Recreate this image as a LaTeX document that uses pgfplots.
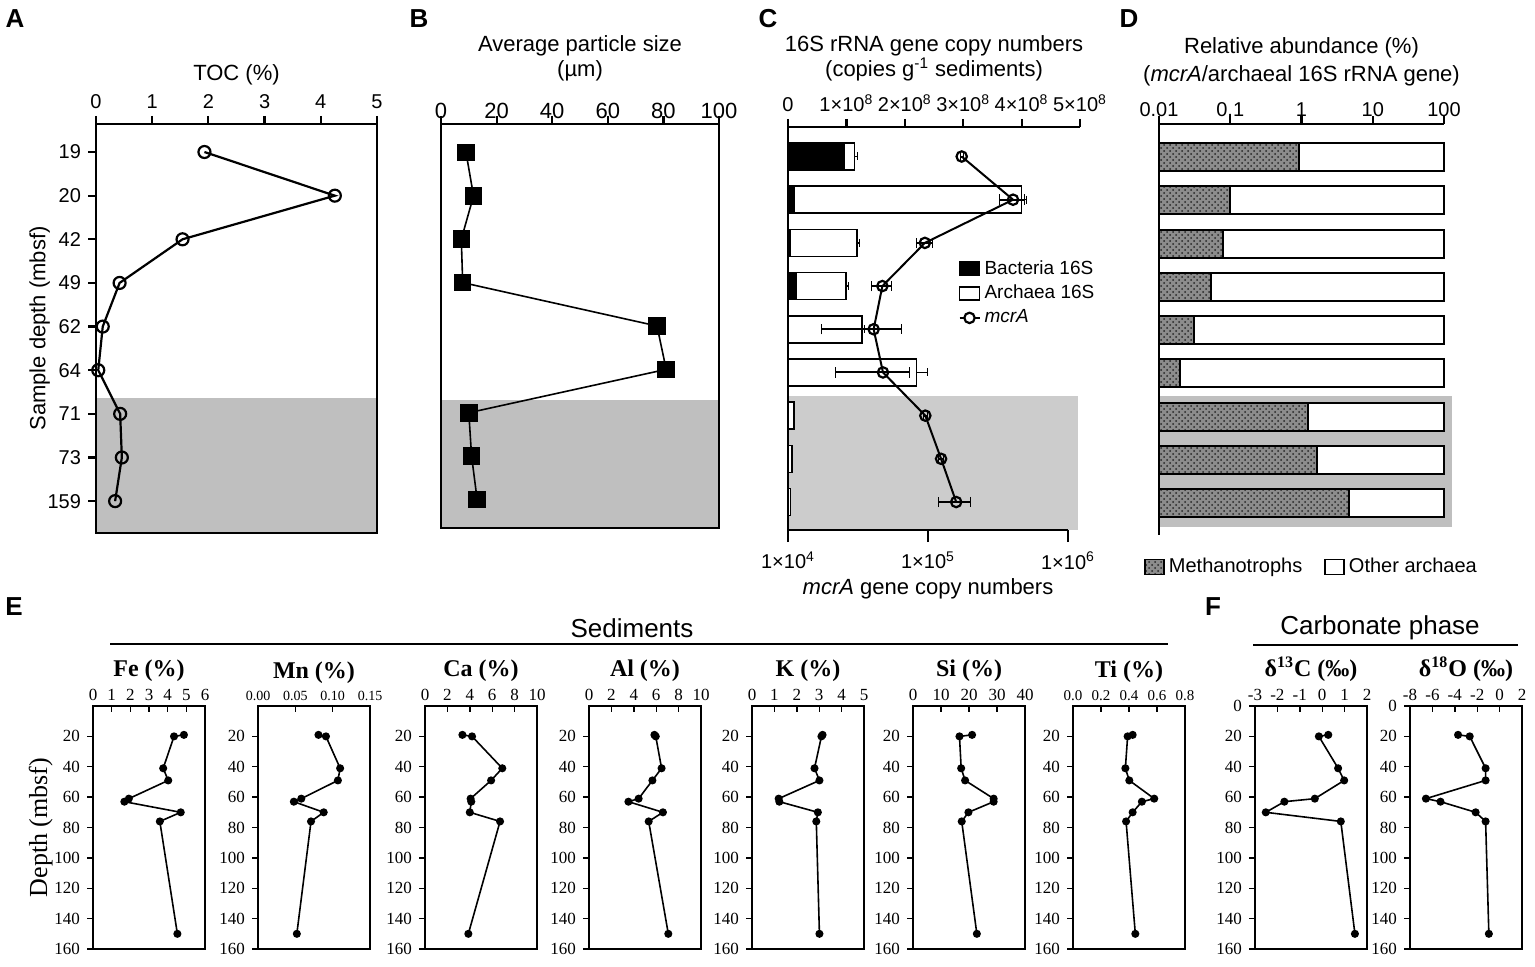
\documentclass[border=0pt]{standalone}
\usepackage{fontspec}
\setmainfont{Liberation Serif}
\setsansfont{Liberation Sans}
\usepackage{pgfplots}
\pgfplotsset{compat=1.18}
\usetikzlibrary{patterns}
\newcommand{\sz}[2]{\fontsize{#1}{#2}\selectfont}

\pgfplotsset{
  toprow/.style={
    anchor=north west, scale only axis, axis on top, clip=false,
    y dir=reverse,
    tick align=outside, major tick length=4pt,
    axis line style={line width=1.1pt}, tick style={line width=1.1pt, black},
    tick label style={font=\sffamily\sz{10}{12}},
    label style={font=\sffamily\sz{11}{12.5}, align=center},
    /pgf/number format/assume math mode=true,
    xtick pos=right, xticklabel pos=right, ytick pos=left,
  },
  elem/.style={
    anchor=north west, scale only axis, width=56pt, height=121.5pt,
    y dir=reverse, ymin=0, ymax=160, ytick={20,40,...,160},
    tick align=outside, major tick length=3pt,
    xtick pos=right, xticklabel pos=right, ytick pos=left,
    xtick style={yshift=-3pt},
    axis line style={line width=0.7pt}, tick style={line width=0.7pt, black},
    tick label style={font=\sz{8.5}{10}},
    xticklabel style={yshift=-4pt},
    xlabel style={font=\bfseries\sz{12}{14}, yshift=-3pt},
    /pgf/number format/assume math mode=true,
  },
  ep/.style={black, line width=0.8pt, mark=*, mark size=1.6pt},
}

\begin{document}
\begin{tikzpicture}
\path[use as bounding box] (0pt,0pt) rectangle (767.5pt,-483.5pt);

% panel letters and group headers
\node[font=\sffamily\bfseries\sz{13}{14}] at (7.5pt,-9.5pt) {A};
\node[font=\sffamily\bfseries\sz{13}{14}] at (209.5pt,-9.5pt) {B};
\node[font=\sffamily\bfseries\sz{13}{14}] at (384pt,-9.5pt) {C};
\node[font=\sffamily\bfseries\sz{13}{14}] at (564.5pt,-9.5pt) {D};
\node[font=\sffamily\bfseries\sz{13}{14}] at (7pt,-303.5pt) {E};
\node[font=\sffamily\bfseries\sz{13}{14}] at (606.5pt,-303.5pt) {F};
\node[font=\sffamily\sz{13}{14}] at (316pt,-314pt) {Sediments};
\draw[line width=1pt] (55pt,-322pt) -- (584pt,-322pt);
\node[font=\sffamily\sz{13}{14}] at (690pt,-314pt) {Carbonate phase};
\draw[line width=1pt] (626.5pt,-322.5pt) -- (759pt,-322.5pt);

% ---- A: TOC
\begin{axis}[toprow, at={(48pt,-62pt)}, width=140.5pt, height=204.5pt,
  xmin=0, xmax=5, xtick={0,1,...,5},
  ymin=0.358, ymax=9.73, ytick={1,...,9},
  yticklabels={19,20,42,49,62,64,71,73,159},
  xlabel={TOC (\%)}, ylabel={Sample depth (mbsf)}, ylabel shift=-8pt,
  xlabel style={yshift=-2pt}]
\fill[black!25] (axis cs:0,6.64) rectangle (axis cs:5,9.73);
\addplot[line width=1.1pt, mark=o, mark size=3pt, mark options={fill=white, line width=1.1pt}]
coordinates {(1.93,1) (4.25,2) (1.54,3) (0.42,4) (0.12,5) (0.04,6) (0.43,7) (0.46,8) (0.34,9)};
\end{axis}

% ---- B: particle size
\begin{axis}[toprow, at={(220.5pt,-62pt)}, width=139pt, height=202pt,
  xmin=0, xmax=100, xtick={0,20,...,100},
  xticklabel style={font=\sffamily\sz{11}{12}, yshift=-5pt},
  ymin=0.343, ymax=9.657, ytick=\empty,
  xlabel={Average particle size\\(µm)}, xlabel style={yshift=4.5pt}]
\fill[black!25] (axis cs:0,6.71) rectangle (axis cs:100,9.657);
\addplot[line width=0.8pt, mark=square*, mark size=4pt]
coordinates {(9.0,1) (11.7,2) (7.3,3) (7.8,4) (77.7,5) (81,6) (10,7) (11,8) (13,9)};
\end{axis}

% ---- C: 16S bars (top linear axis)
\begin{axis}[toprow, at={(394pt,-63.5pt)}, width=146pt, height=201.5pt,
  axis x line*=top, axis y line*=left,
  xmin=0, xmax=5e8, xtick={0,1e8,2e8,3e8,4e8,5e8}, scaled x ticks=false,
  xticklabels={0,1×10\textsuperscript{8},2×10\textsuperscript{8},3×10\textsuperscript{8},4×10\textsuperscript{8},5×10\textsuperscript{8}},
  ymin=0.317, ymax=9.648, ytick=\empty,
  xlabel={16S rRNA gene copy numbers\\(copies g\textsuperscript{-1} sediments)},
  legend style={at={(0.562,0.69)}, anchor=north west, draw=none, fill=none,
    font=\sffamily\sz{9.5}{12}, cells={anchor=west}}]
\fill[black!20] (axis cs:0,6.545) rectangle (axis cs:4.966e8,9.648);
\addplot[forget plot, xbar, bar width=13.5pt, bar shift=0pt, fill=white, draw=black, line width=0.8pt,
  error bars/.cd, x dir=plus, x explicit, error bar style={line width=0.8pt}]
coordinates {(1.14e8,1) +- (0.04e8,0) (4.00e8,2) +- (0.08e8,0) (1.18e8,3) +- (0.05e8,0)
  (0.99e8,4) +- (0.04e8,0) (1.27e8,5) +- (0.03e8,0) (2.20e8,6) +- (0.19e8,0)
  (0.10e8,7) +- (0.01e8,0) (0.07e8,8) +- (0.01e8,0) (0.04e8,9) +- (0.005e8,0)};
\addplot[forget plot, xbar, bar width=13.5pt, bar shift=0pt, fill=black, draw=black, line width=0.8pt]
coordinates {(0.97e8,1) (0.11e8,2) (0.03e8,3) (0.14e8,4)};
\addlegendimage{legend image code/.code={\draw[fill=black, line width=0.8pt] (0pt,-3.3pt) rectangle (10pt,3.3pt);}}
\addlegendentry{Bacteria 16S}
\addlegendimage{legend image code/.code={\draw[fill=white, line width=0.8pt] (0pt,-3.3pt) rectangle (10pt,3.3pt);}}
\addlegendentry{Archaea 16S}
\addlegendimage{legend image code/.code={\draw[line width=1pt] (0pt,0pt) -- (10pt,0pt); \draw[line width=1.1pt, fill=white] (5pt,0pt) circle (2.6pt);}}
\addlegendentry{\textit{mcrA}}
\end{axis}

% ---- C: mcrA (bottom log axis)
\begin{axis}[anchor=south west, at={(394pt,-265pt)}, scale only axis, clip=false,
  width=140pt, height=201.5pt, y dir=reverse,
  axis x line*=bottom, axis y line=none,
  tick align=outside, major tick length=6pt,
  axis line style={line width=1.1pt}, tick style={line width=1.1pt, black},
  tick label style={font=\sffamily\sz{10}{12}},
  xticklabel style={yshift=-1.5pt},
  label style={font=\sffamily\sz{11}{12.5}},
  xmode=log, xmin=1e4, xmax=1e6, xtick={1e4,1e5,1e6}, xminorticks=false,
  xticklabels={1×10\textsuperscript{4},1×10\textsuperscript{5},1×10\textsuperscript{6}},
  ymin=0.317, ymax=9.648, ytick=\empty,
  xlabel={\textit{mcrA} gene copy numbers}, xlabel style={yshift=2pt}]
\addplot[line width=1pt, mark=o, mark size=2.6pt, mark options={fill=white, line width=1.1pt},
  error bars/.cd, x dir=both, x explicit, error bar style={line width=1pt}]
coordinates {(1.74e5,1) +- (0.05e5,0) (4.05e5,2) +- (0.8e5,0) (9.5e4,3) +- (1.3e4,0)
  (4.72e4,4) +- (0.77e4,0) (4.09e4,5) +- (2.36e4,0) (4.77e4,6) +- (2.6e4,0)
  (9.57e4,7) +- (0.3e4,0) (1.24e5,8) +- (0.05e5,0) (1.59e5,9) +- (0.41e5,0)};
\end{axis}

% ---- D: relative abundance
\begin{axis}[toprow, at={(579.5pt,-62pt)}, width=142.5pt, height=205.5pt,
  axis x line*=top, axis y line*=left,
  xmode=log, log origin x=infty, xmin=0.01, xmax=100, xminorticks=false,
  xtick={0.01,0.1,1,10,100}, xticklabels={0.01,0.1,1,10,100},
  xticklabel style={yshift=-4pt},
  ymin=0.237, ymax=9.74, ytick=\empty,
  xlabel={Relative abundance (\%)\\(\textit{mcrA}/archaeal 16S rRNA gene)},
  xlabel style={font=\sffamily\sz{11}{14}, yshift=1.5pt},
  legend columns=2,
  legend style={at={(-0.074,-0.036)}, anchor=north west, draw=none, fill=none,
    font=\sffamily\sz{10}{12}, /tikz/every even column/.append style={column sep=9pt}}]
\fill[black!25] (axis cs:0.0103,6.526) rectangle (axis cs:129,9.555);
\addplot[forget plot, xbar, bar width=14pt, bar shift=0pt, fill=white, draw=black, line width=1pt]
coordinates {(100,1) (100,2) (100,3) (100,4) (100,5) (100,6) (100,7) (100,8) (100,9)};
\addplot[forget plot, xbar, bar width=14pt, bar shift=0pt, fill=black!45, draw=black, line width=1pt,
  postaction={pattern=crosshatch dots, pattern color=black!85}]
coordinates {(0.91,1) (0.10,2) (0.080,3) (0.053,4) (0.031,5) (0.020,6) (1.22,7) (1.67,8) (4.6,9)};
\addlegendimage{legend image code/.code={\draw[fill=black!45, line width=0.8pt, postaction={pattern=crosshatch dots, pattern color=black!85}] (0pt,-3.8pt) rectangle (9.5pt,3.8pt);}}
\addlegendentry{Methanotrophs}
\addlegendimage{legend image code/.code={\draw[fill=white, line width=0.8pt] (0pt,-3.8pt) rectangle (9.5pt,3.8pt);}}
\addlegendentry{Other archaea}
\end{axis}

% ---- E: sediments
\begin{axis}[elem, at={(46.5pt,-353pt)}, xmin=0, xmax=6, xtick={0,...,6},
  xlabel={Fe (\%)}, ylabel={Depth (mbsf)}, ylabel style={font=\sz{13}{14}}, ylabel shift=-6pt]
\addplot[ep] coordinates {(4.87,19) (4.34,20) (3.76,41) (4.03,49) (1.92,61) (1.68,63) (4.70,70) (3.58,76) (4.52,150)};
\end{axis}
\begin{axis}[elem, at={(129pt,-353pt)}, xmin=0, xmax=0.15, xtick={0,0.05,0.1,0.15},
  xticklabels={0.00,0.05,0.10,0.15}, xticklabel style={font=\sz{7}{8}},
  xlabel={Mn (\%)}]
\addplot[ep] coordinates {(0.081,19) (0.091,20) (0.110,41) (0.107,49) (0.058,61) (0.048,63) (0.088,70) (0.071,76) (0.052,150)};
\end{axis}
\begin{axis}[elem, at={(212.5pt,-353pt)}, xmin=0, xmax=10, xtick={0,2,...,10},
  xlabel={Ca (\%)}]
\addplot[ep] coordinates {(3.34,19) (4.2,20) (6.9,41) (5.9,49) (4.07,61) (4.13,63) (4.0,70) (6.7,76) (3.87,150)};
\end{axis}
\begin{axis}[elem, at={(294.5pt,-353pt)}, xmin=0, xmax=10, xtick={0,2,...,10},
  xlabel={Al (\%)}]
\addplot[ep] coordinates {(5.84,19) (5.96,20) (6.48,41) (5.66,49) (4.43,61) (3.52,63) (6.6,70) (5.33,76) (7.08,150)};
\end{axis}
\begin{axis}[elem, at={(376pt,-353pt)}, xmin=0, xmax=5, xtick={0,...,5},
  xlabel={K (\%)}]
\addplot[ep] coordinates {(3.15,19) (3.10,20) (2.79,41) (3.01,49) (1.19,61) (1.22,63) (2.94,70) (2.87,76) (3.01,150)};
\end{axis}
\begin{axis}[elem, at={(456.5pt,-353pt)}, xmin=0, xmax=40, xtick={0,10,...,40},
  xlabel={Si (\%)}]
\addplot[ep] coordinates {(21.1,19) (16.6,20) (17.2,41) (18.6,49) (28.8,61) (28.8,63) (19.8,70) (17.4,76) (22.8,150)};
\end{axis}
\begin{axis}[elem, at={(536.5pt,-353pt)}, xmin=0, xmax=0.8, xtick={0,0.2,...,0.8},
  xticklabels={0.0,0.2,0.4,0.6,0.8}, xticklabel style={font=\sz{7.5}{8}},
  xlabel={Ti (\%)}]
\addplot[ep] coordinates {(0.426,19) (0.39,20) (0.374,41) (0.402,49) (0.58,61) (0.492,63) (0.426,70) (0.379,76) (0.445,150)};
\end{axis}

% ---- F: carbonate phase
\begin{axis}[elem, at={(627.5pt,-353pt)}, xmin=-3, xmax=2, xtick={-3,...,2},
  xticklabels={-3,-2,-1,0,1,2}, ytick={0,20,...,160},
  xlabel={δ\textsuperscript{13}C (‰)}]
\addplot[ep] coordinates {(0.27,19) (-0.15,20) (0.71,41) (0.98,49) (-0.33,61) (-1.69,63) (-2.52,70) (0.83,76) (1.46,150)};
\end{axis}
\begin{axis}[elem, at={(705pt,-353pt)}, xmin=-8, xmax=2, xtick={-8,-6,...,2},
  xticklabels={-8,-6,-4,-2,0,2}, ytick={0,20,...,160},
  xlabel={δ\textsuperscript{18}O (‰)}]
\addplot[ep] coordinates {(-3.71,19) (-2.67,20) (-1.25,41) (-1.25,49) (-6.58,61) (-5.28,63) (-2.14,70) (-1.25,76) (-0.96,150)};
\end{axis}
\end{tikzpicture}
\end{document}
